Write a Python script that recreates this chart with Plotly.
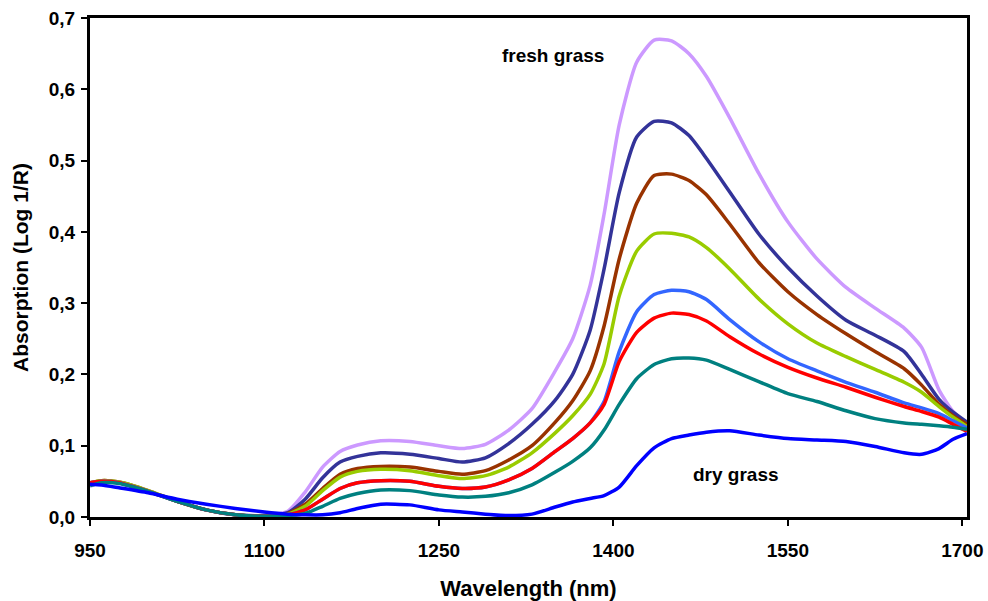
import plotly.graph_objects as go

wavelength = [950, 960, 975, 1000, 1025, 1050, 1075, 1100, 1120, 1135, 1150, 1165, 1180, 1200,
              1225, 1250, 1270, 1290, 1310, 1330, 1350, 1365, 1380, 1392, 1405, 1420, 1435, 1450,
              1465, 1480, 1500, 1525, 1550, 1575, 1600, 1625, 1650, 1665, 1680, 1692, 1704]

s_lilac = [0.043, 0.049, 0.048, 0.036, 0.022, 0.010, 0.003, 0.002, 0.008, 0.035, 0.070, 0.092, 0.101, 0.107,
           0.106, 0.100, 0.096, 0.102, 0.122, 0.152, 0.205, 0.250, 0.325, 0.425, 0.550, 0.638, 0.669, 0.668,
           0.650, 0.618, 0.560, 0.482, 0.414, 0.362, 0.322, 0.293, 0.265, 0.238, 0.178, 0.148, 0.130]
s_navy = [0.047, 0.050, 0.048, 0.036, 0.022, 0.010, 0.003, 0.002, 0.006, 0.025, 0.055, 0.077, 0.085, 0.090,
          0.088, 0.082, 0.077, 0.083, 0.103, 0.130, 0.164, 0.200, 0.262, 0.348, 0.455, 0.533, 0.555, 0.553,
          0.535, 0.503, 0.456, 0.397, 0.350, 0.310, 0.276, 0.255, 0.232, 0.200, 0.165, 0.147, 0.133]
s_brown = [0.048, 0.051, 0.049, 0.037, 0.022, 0.010, 0.003, 0.001, 0.005, 0.018, 0.040, 0.060, 0.068, 0.071,
           0.070, 0.064, 0.060, 0.065, 0.080, 0.100, 0.133, 0.163, 0.205, 0.268, 0.362, 0.440, 0.479, 0.481,
           0.472, 0.452, 0.411, 0.357, 0.316, 0.284, 0.257, 0.232, 0.208, 0.185, 0.158, 0.142, 0.130]
s_green = [0.048, 0.051, 0.049, 0.037, 0.022, 0.010, 0.003, 0.001, 0.004, 0.015, 0.037, 0.056, 0.064, 0.067,
           0.065, 0.058, 0.054, 0.058, 0.070, 0.090, 0.118, 0.142, 0.172, 0.215, 0.310, 0.373, 0.397, 0.398,
           0.393, 0.378, 0.348, 0.306, 0.271, 0.244, 0.225, 0.207, 0.189, 0.175, 0.155, 0.140, 0.127]
s_lightblue = [0.048, 0.050, 0.048, 0.036, 0.022, 0.010, 0.003, 0.001, 0.003, 0.010, 0.025, 0.040, 0.048, 0.051,
               0.050, 0.043, 0.040, 0.042, 0.052, 0.068, 0.092, 0.110, 0.132, 0.162, 0.232, 0.288, 0.312, 0.318,
               0.316, 0.305, 0.277, 0.246, 0.222, 0.205, 0.189, 0.175, 0.160, 0.153, 0.145, 0.135, 0.125]
s_red = [0.048, 0.050, 0.048, 0.036, 0.022, 0.010, 0.003, 0.001, 0.003, 0.010, 0.025, 0.040, 0.048, 0.051,
         0.050, 0.043, 0.040, 0.042, 0.052, 0.068, 0.092, 0.110, 0.132, 0.158, 0.218, 0.259, 0.279, 0.286,
         0.284, 0.275, 0.253, 0.229, 0.210, 0.195, 0.182, 0.168, 0.155, 0.148, 0.140, 0.130, 0.120]
s_teal = [0.044, 0.048, 0.047, 0.036, 0.022, 0.010, 0.003, 0.001, 0.002, 0.005, 0.015, 0.026, 0.033, 0.038,
          0.037, 0.031, 0.028, 0.029, 0.034, 0.045, 0.063, 0.078, 0.097, 0.122, 0.158, 0.194, 0.214, 0.222,
          0.223, 0.220, 0.207, 0.190, 0.173, 0.162, 0.149, 0.138, 0.132, 0.130, 0.128, 0.126, 0.123]
s_blue = [0.046, 0.045, 0.041, 0.034, 0.025, 0.018, 0.012, 0.007, 0.004, 0.003, 0.003, 0.006, 0.012, 0.018,
          0.017, 0.010, 0.007, 0.004, 0.002, 0.004, 0.014, 0.021, 0.026, 0.030, 0.042, 0.072, 0.097, 0.110,
          0.115, 0.119, 0.121, 0.115, 0.110, 0.108, 0.106, 0.099, 0.090, 0.088, 0.096, 0.109, 0.117]

series = [s_lilac, s_navy, s_brown, s_green, s_lightblue, s_red, s_teal, s_blue]
colors = ["#CC99FF", "#333399", "#993300", "#99CC00", "#3366FF", "#FF0000", "#008080", "#0000FF"]

x_ticks = [950, 1100, 1250, 1400, 1550, 1700]
x_ticktext = ["950", "1100", "1250", "1400", "1550", "1700"]
y_ticks = [0.0, 0.1, 0.2, 0.3, 0.4, 0.5, 0.6, 0.7]
y_ticktext = ["0,0", "0,1", "0,2", "0,3", "0,4", "0,5", "0,6", "0,7"]

FONT = "Liberation Sans, Arial, sans-serif"

fig = go.Figure()
for s, c in zip(series, colors):
    fig.add_trace(go.Scatter(x=wavelength, y=s, mode="lines",
                             line=dict(color=c, width=3.5, shape="spline", smoothing=0.6),
                             showlegend=False, hoverinfo="skip"))

fig.add_annotation(x=1348, y=0.647, text="<b>fresh grass</b>", showarrow=False,
                   font=dict(family=FONT, size=19, color="black"))
fig.add_annotation(x=1505, y=0.060, text="<b>dry grass</b>", showarrow=False,
                   font=dict(family=FONT, size=19, color="black"))

fig.update_layout(
    width=988, height=601,
    margin=dict(l=90, r=21, t=18, b=84, autoexpand=False),
    paper_bgcolor="white", plot_bgcolor="white",
    font=dict(family=FONT, color="black"),
    xaxis=dict(range=[950, 1704], tickvals=x_ticks, ticktext=x_ticktext,
               showgrid=False, zeroline=False, automargin=False,
               showline=True, linecolor="black", linewidth=3, mirror=True,
               ticks="outside", ticklen=6, tickwidth=2, tickcolor="black",
               ticklabelstandoff=8,
               tickfont=dict(family=FONT, size=19, color="black", weight="bold"),
               title=dict(text="<b>Wavelength (nm)</b>", standoff=22,
                          font=dict(family=FONT, size=22, color="black"))),
    yaxis=dict(range=[0, 0.7], tickvals=y_ticks, ticktext=y_ticktext,
               showgrid=False, zeroline=False, automargin=False,
               showline=True, linecolor="black", linewidth=3, mirror=True,
               ticks="outside", ticklen=6, tickwidth=2, tickcolor="black",
               ticklabelstandoff=2,
               tickfont=dict(family=FONT, size=19, color="black", weight="bold"),
               title=dict(text="<b>Absorption (Log 1/R)</b>", standoff=15,
                          font=dict(family=FONT, size=21, color="black"))),
)

fig.write_html("out.html", config={"displayModeBar": False},
               post_script="document.body.style.margin='0';")
